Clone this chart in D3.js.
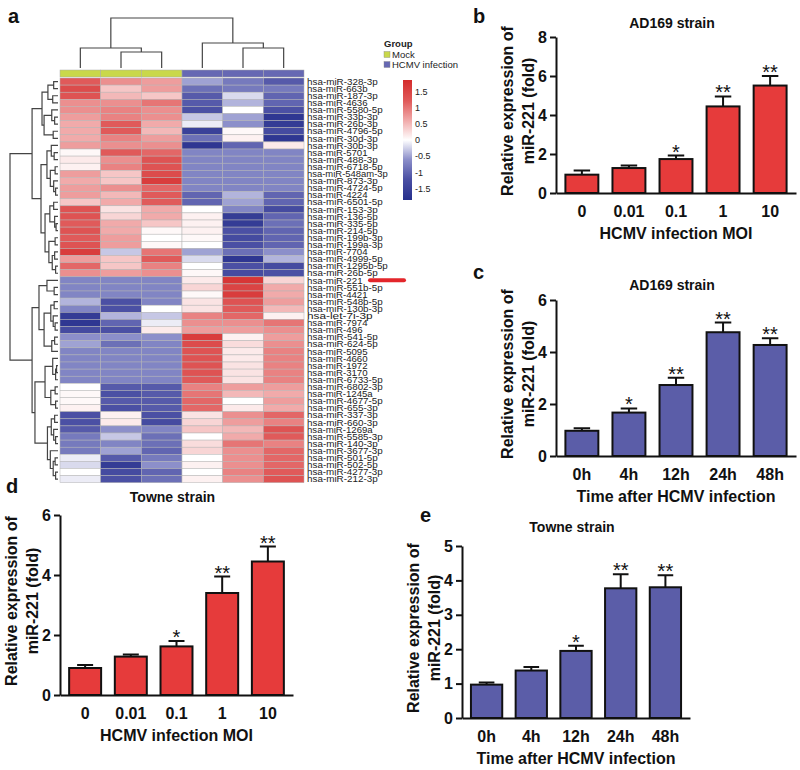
<!DOCTYPE html>
<html>
<head>
<meta charset="utf-8">
<script src="https://cdn.jsdelivr.net/npm/d3@7"></script>
<style>
  body { margin: 0; background: #fff; }
  svg { font-family: "Liberation Sans", Arial, sans-serif; }
</style>
</head>
<body>
<script>
// ---------- panel a: heatmap data ----------
var rowNames = ["hsa-miR-328-3p","hsa-miR-663b","hsa-miR-187-3p","hsa-miR-4636","hsa-miR-5580-5p",
  "hsa-miR-33b-3p","hsa-miR-26b-3p","hsa-miR-4796-5p","hsa-miR-30d-3p","hsa-miR-30b-3p","hsa-miR-5701",
  "hsa-miR-488-3p","hsa-miR-6718-5p","hsa-miR-548am-3p","hsa-miR-873-3p","hsa-miR-4724-5p","hsa-miR-4224",
  "hsa-miR-6501-5p","hsa-miR-153-3p","hsa-miR-136-5p","hsa-miR-335-5p","hsa-miR-214-5p","hsa-miR-199b-3p",
  "hsa-miR-199a-3p","hsa-miR-7704","hsa-miR-4999-5p","hsa-miR-1295b-5p","hsa-miR-26b-5p","hsa-miR-221",
  "hsa-miR-551b-5p","hsa-miR-4421","hsa-miR-548b-5p","hsa-miR-130b-3p","hsa-let-7i-3p","hsa-miR-7974",
  "hsa-miR-496","hsa-miR-541-5p","hsa-miR-624-5p","hsa-miR-5095","hsa-miR-4660","hsa-miR-1972",
  "hsa-miR-3170","hsa-miR-6733-5p","hsa-miR-6802-3p","hsa-miR-1245a","hsa-miR-4677-5p","hsa-miR-655-3p",
  "hsa-miR-337-3p","hsa-miR-660-3p","hsa-miR-1269a","hsa-miR-5585-3p","hsa-miR-140-3p","hsa-miR-3677-3p",
  "hsa-miR-501-5p","hsa-miR-502-5p","hsa-miR-4277-3p","hsa-miR-212-3p"];

var colGroups = ["Mock","Mock","Mock","HCMV infection","HCMV infection","HCMV infection"];
var groupNames = ["Mock","HCMV infection"];

// z-scores, one row per miRNA, columns = 3 mock + 3 infected
var expr = [
  [1.2,0.8,0.7,-0.5,-0.8,-1.1],[1.4,0.4,0.7,-0.9,-0.8,-0.8],[1.3,0.5,0.4,-1.1,-0.2,-1.0],
  [0.8,0.8,1.0,-1.1,-0.4,-1.0],[0.8,0.9,0.8,-1.2,0.0,-1.2],[0.7,0.9,0.8,-0.3,-0.5,-1.7],
  [0.6,1.2,0.6,-0.1,-0.6,-1.6],[0.6,1.2,0.5,-1.5,0.05,-1.3],[0.6,0.9,0.7,-0.9,0.1,-1.7],
  [0.7,0.8,0.8,-1.7,-1.0,0.15],[0.05,1.2,1.1,-0.7,-0.7,-0.7],[0.15,0.8,1.3,-0.7,-0.7,-0.7],
  [0.1,0.9,1.3,-0.7,-0.7,-0.7],[0.7,0.4,1.4,-0.7,-0.7,-0.7],[0.6,0.4,1.6,-0.7,-0.7,-0.7],
  [0.7,0.8,1.1,-0.7,-0.7,-0.7],[0.7,0.5,1.2,-1.0,-0.4,-1.0],[0.4,0.6,1.2,-1.0,-0.5,-1.0],
  [1.3,0.2,0.6,0.0,-0.7,-1.3],[1.3,0.3,0.6,0.1,-1.6,-1.0],[1.2,0.6,0.4,0.1,-1.6,-0.9],
  [1.3,0.6,0.05,0.1,-1.2,-1.0],[1.2,0.7,0.0,0.05,-1.3,-1.0],[1.3,0.7,0.05,0.0,-1.2,-1.0],
  [1.6,-0.3,1.0,-0.5,-0.9,-0.6],[0.7,0.4,1.2,-0.2,-1.7,-0.4],[1.1,0.4,0.9,0.0,-1.2,-1.3],
  [0.8,0.7,0.8,0.05,-1.3,-1.2],[-0.7,-0.7,-0.7,0.15,1.7,0.3],[-0.7,-0.7,-0.7,0.3,1.5,0.6],
  [-0.7,-0.7,-0.7,0.05,1.6,0.6],[-0.4,-1.2,-0.7,0.2,1.3,0.7],[-0.7,-1.2,0.0,0.2,1.2,0.5],
  [-1.6,-0.4,-0.3,0.9,1.1,0.1],[-1.7,-1.0,-0.1,0.8,0.8,1.0],[-1.3,-1.2,0.15,0.7,0.7,0.8],
  [-0.6,-0.6,-0.6,1.6,0.1,0.7],[-0.5,-0.9,-0.7,1.4,0.25,0.8],[-0.7,-0.7,-0.7,1.3,0.15,0.9],
  [-0.7,-0.7,-0.7,1.3,0.15,0.9],[-0.7,-0.7,-0.7,1.3,0.2,0.9],[-0.7,-0.7,-0.7,1.3,0.2,0.9],
  [-0.7,-0.7,-0.7,1.2,0.2,0.9],[0.0,-1.1,-1.1,0.9,0.7,0.7],[0.05,-1.2,-1.1,1.0,0.5,0.6],
  [0.05,-1.1,-1.1,1.1,0.0,0.7],[0.1,-1.2,-1.1,1.1,0.15,0.6],[-1.2,0.1,-1.2,0.2,0.8,1.1],
  [-1.2,0.15,-1.3,0.3,0.7,0.9],[-1.1,-0.6,-0.7,0.4,0.5,1.3],[-0.8,-0.3,-0.9,0.0,0.6,1.2],
  [-0.8,-0.7,-0.9,0.25,1.0,0.9],[-0.8,-0.5,-1.0,0.3,0.8,1.1],[-0.1,-1.1,-0.8,0.0,0.8,1.1],
  [-0.2,-1.6,-0.6,0.1,0.8,1.1],[0.0,-1.3,-1.0,0.0,0.9,1.2],[-0.1,-1.2,-0.9,0.1,0.8,1.3]
];

var legendTicks = [1.5, 1, 0.5, 0, -0.5, -1, -1.5];

// dendrograms: [height, left, right], leaves are column / row indices
var colTree = [5.0, [2.0, 0, [1.6, 1, 2]], [2.5, 3, [2.0, 4, 5]]];
var rowTree = [10,
  [5.4,
    [3.33, [2.1, [0.9, 0, 1], [1.1, 2, 3]], [2.9, [1.3, 4, [0.7, 5, 6]], [1.0, 7, 8]]],
    [3.54,
      [2.3, [1.4, 9, [0.8, 10, 11]], [1.6, [0.6, 12, 13], [0.9, 14, [0.5, 15, 16]]]],
      [2.7, [1.7, [0.9, 17, 18], [0.7, 19, [0.4, 20, 21]]], [1.9, [0.6, 22, 23], [1.2, [0.7, 24, 25], [0.5, 26, 27]]]]]],
  [5.4,
    [3.96, [2.3, 28, [0.8, 29, 30]],
      [2.9, [1.5, [0.8, 31, 32], [1.0, 33, [0.6, 34, 35]]], [1.3, [0.7, 36, 37], 38]]],
    [4.8,
      [2.7, [1.1, 39, [0.5, [0.3, 40, 41], 42]], [1.5, [0.6, 43, 44], [0.5, 45, 46]]],
      [2.2, [1.4, [0.7, 47, 48], [0.9, 49, [0.5, 50, 51]]], [1.6, 52, [1.0, [0.6, 53, 54], [0.5, 55, 56]]]]]]
];

// ---------- panels b-e: qPCR bars ----------
var moiCats = ["0", "0.01", "0.1", "1", "10"];
var timeCats = ["0h", "4h", "12h", "24h", "48h"];

var ad169Moi = [0.94, 1.28, 1.74, 4.44, 5.51];
var ad169MoiErr = [0.22, 0.13, 0.18, 0.51, 0.49];
var ad169MoiStars = ["", "", "*", "**", "**"];

var ad169Time = [0.97, 1.67, 2.73, 4.76, 4.27];
var ad169TimeErr = [0.10, 0.16, 0.28, 0.37, 0.26];
var ad169TimeStars = ["", "*", "**", "**", "**"];

var towneMoi = [0.90, 1.28, 1.62, 3.40, 4.45];
var towneMoiErr = [0.10, 0.07, 0.18, 0.55, 0.50];
var towneMoiStars = ["", "", "*", "**", "**"];

var towneTime = [0.97, 1.38, 1.95, 3.77, 3.80];
var towneTimeErr = [0.06, 0.10, 0.15, 0.41, 0.35];
var towneTimeStars = ["", "", "*", "**", "**"];

var ticks8 = [0, 2, 4, 6, 8], ticks6 = [0, 2, 4, 6], ticks5 = [0, 1, 2, 3, 4, 5];

// ---------- svg ----------
var svg = d3.select("body").append("svg")
    .attr("width", 800)
    .attr("height", 770);

var heatColor = d3.scaleLinear()
    .domain([-1.85, -1.2, -0.6, 0, 0.6, 1.2, 1.85])
    .range(["#262f8c", "#4b50a4", "#8c8fca", "#ffffff", "#f1aaaa", "#e05a5a", "#d42b2b"])
    .clamp(true);

var groupColor = d3.scaleOrdinal().domain(groupNames).range(["#c9d84a", "#6668b3"]);

var xCol = d3.scaleBand().domain(d3.range(colGroups.length)).range([60, 304]);
var yRow = d3.scaleBand().domain(d3.range(rowNames.length)).range([78, 78 + rowNames.length * 7.1]);

// panel letter
function panelLabel(t, x, y) {
    svg.append("text").attr("x", x).attr("y", y)
        .attr("font-size", 20).attr("font-weight", "bold").attr("fill", "#111").text(t);
}
panelLabel("a", 8, 23);

// draws an elbow dendrogram; pos(leaf) gives leaf position, hs maps height
function drawTree(tree, pos, hs, vertical) {
    var segs = [];
    function walk(n) {
        if (typeof n === "number") return { p: pos(n), h: 0 };
        var a = walk(n[1]), b = walk(n[2]);
        if (vertical) {
            segs.push("M" + a.p + "," + hs(a.h) + "V" + hs(n[0]) + "H" + b.p + "V" + hs(b.h));
        } else {
            segs.push("M" + hs(a.h) + "," + a.p + "H" + hs(n[0]) + "V" + b.p + "H" + hs(b.h));
        }
        return { p: (a.p + b.p) / 2, h: n[0] };
    }
    walk(tree);
    svg.append("path")
        .attr("d", segs.join(""))
        .attr("fill", "none")
        .attr("stroke", "#444")
        .attr("stroke-width", 1.2);
}

var colH = d3.scaleLinear().domain([0, colTree[0]]).range([68, 18]);
drawTree(colTree, function(i) { return xCol(i) + xCol.bandwidth() / 2; }, colH, true);

var rowH = d3.scaleLinear().domain([0, rowTree[0]]).range([58, 10]);
drawTree(rowTree, function(i) { return yRow(i) + yRow.bandwidth() / 2; }, rowH, false);

// annotation bar
svg.append("g").selectAll("rect")
    .data(colGroups)
    .enter().append("rect")
        .attr("x", function(d, i) { return xCol(i); })
        .attr("y", 70)
        .attr("width", xCol.bandwidth())
        .attr("height", 7)
        .attr("fill", function(d) { return groupColor(d); })
        .attr("stroke", "#aaa")
        .attr("stroke-width", 0.5);

// heatmap cells
var cells = [];
expr.forEach(function(r, i) { r.forEach(function(v, j) { cells.push({ r: i, c: j, v: v }); }); });
svg.append("g").selectAll("rect")
    .data(cells)
    .enter().append("rect")
        .attr("x", function(d) { return xCol(d.c); })
        .attr("y", function(d) { return yRow(d.r); })
        .attr("width", xCol.bandwidth())
        .attr("height", yRow.bandwidth())
        .attr("fill", function(d) { return heatColor(d.v); })
        .attr("stroke", "#b4b4b4")
        .attr("stroke-width", 0.5);

// row labels
svg.append("g").selectAll("text")
    .data(rowNames)
    .enter().append("text")
        .attr("x", 307)
        .attr("y", function(d, i) { return yRow(i) + yRow.bandwidth() / 2; })
        .attr("dy", "0.36em")
        .attr("font-size", 9)
        .attr("textLength", function(d) { return d.length * 5.05; })
        .attr("lengthAdjust", "spacingAndGlyphs")
        .attr("fill", "#222")
        .text(function(d) { return d; });

// red arrow at miR-221
var i221 = rowNames.indexOf("hsa-miR-221");
svg.append("line")
    .attr("x1", 370).attr("x2", 404)
    .attr("y1", yRow(i221) + yRow.bandwidth() / 2)
    .attr("y2", yRow(i221) + yRow.bandwidth() / 2)
    .attr("stroke", "#e3262b").attr("stroke-width", 4).attr("stroke-linecap", "round");

// group legend
svg.append("text").attr("x", 384).attr("y", 47)
    .attr("font-size", 9.5).attr("font-weight", "bold").attr("fill", "#222").text("Group");
groupNames.forEach(function(g, k) {
    svg.append("rect").attr("x", 384).attr("y", 51.5 + k * 10).attr("width", 6).attr("height", 6)
        .attr("fill", groupColor(g)).attr("stroke", "#888").attr("stroke-width", 0.4);
    svg.append("text").attr("x", 392).attr("y", 57.5 + k * 10)
        .attr("font-size", 9.5).attr("fill", "#222").text(g);
});

// colour key
var keyY = d3.scaleLinear().domain([-1.85, 1.85]).range([200, 80]);
var grad = svg.append("defs").append("linearGradient")
    .attr("id", "key").attr("x1", 0).attr("y1", 1).attr("x2", 0).attr("y2", 0);
heatColor.domain().forEach(function(v) {
    grad.append("stop")
        .attr("offset", (v + 1.85) / 3.7)
        .attr("stop-color", heatColor(v));
});
svg.append("rect").attr("x", 403).attr("y", 80).attr("width", 9).attr("height", 120)
    .attr("fill", "url(#key)");
svg.append("g").selectAll("text")
    .data(legendTicks)
    .enter().append("text")
        .attr("x", 415)
        .attr("y", function(d) { return keyY(d); })
        .attr("dy", "0.35em")
        .attr("font-size", 9)
        .attr("fill", "#222")
        .text(function(d) { return d3.format("~g")(d).replace("\u2212", "-"); });

// ---------- bar panels ----------
function barPanel(p) {
    var g = svg.append("g");
    var x = d3.scaleBand().domain(p.cats).range([p.left, p.right])
        .paddingInner(0.3).paddingOuter(0.2);
    var y = d3.scaleLinear().domain([0, p.ymax]).range([p.bottom, p.top]);
    var rows = p.cats.map(function(c, i) {
        return { c: c, v: p.vals[i], e: p.errs[i], s: p.stars[i] };
    });
    var bw = x.bandwidth();

    // error bars (upper only)
    g.selectAll(".err")
        .data(rows)
        .enter().append("path")
            .attr("class", "err")
            .attr("d", function(d) {
                var cx = x(d.c) + bw / 2, w = bw / 4, t = y(d.v + d.e);
                return "M" + cx + "," + y(d.v) + "V" + t + "M" + (cx - w) + "," + t + "H" + (cx + w);
            })
            .attr("fill", "none").attr("stroke", "#111").attr("stroke-width", 2);

    g.selectAll(".bar")
        .data(rows)
        .enter().append("rect")
            .attr("class", "bar")
            .attr("x", function(d) { return x(d.c); })
            .attr("y", function(d) { return y(d.v); })
            .attr("width", bw)
            .attr("height", function(d) { return y(0) - y(d.v); })
            .attr("fill", p.color)
            .attr("stroke", "#111")
            .attr("stroke-width", 2);

    g.selectAll(".star")
        .data(rows)
        .enter().append("text")
            .attr("class", "star")
            .attr("x", function(d) { return x(d.c) + bw / 2; })
            .attr("y", function(d) { return y(d.v + d.e) + 3; })
            .attr("text-anchor", "middle")
            .attr("font-size", 20)
            .attr("fill", "#111")
            .text(function(d) { return d.s; });

    // axes
    var ya = g.append("g")
        .attr("transform", "translate(" + p.left + ",0)")
        .call(d3.axisLeft(y).tickValues(p.yticks).tickFormat(d3.format("d"))
            .tickSize(6).tickSizeOuter(0).tickPadding(3));
    var xa = g.append("g")
        .attr("transform", "translate(0," + p.bottom + ")")
        .call(d3.axisBottom(x).tickSize(0).tickSizeOuter(0).tickPadding(13));
    [ya, xa].forEach(function(a) {
        a.select(".domain").attr("stroke", "#111").attr("stroke-width", 2);
        a.selectAll(".tick line").attr("stroke", "#111").attr("stroke-width", 2);
        a.selectAll("text")
            .attr("font-size", 16).attr("font-weight", "bold").attr("fill", "#111")
            .attr("font-family", "Liberation Sans, Arial, sans-serif");
    });

    var mid = (p.top + p.bottom) / 2 - 4;
    var cx = (p.left + p.right) / 2;
    ["Relative expression of", "miR-221 (fold)"].forEach(function(t, k) {
        g.append("text")
            .attr("transform", "translate(" + (p.left - 43 + k * 21) + "," + mid + ") rotate(-90)")
            .attr("text-anchor", "middle")
            .attr("font-size", 16).attr("font-weight", "bold").attr("fill", "#111")
            .text(t);
    });
    g.append("text").attr("x", cx).attr("y", p.bottom + 46)
        .attr("text-anchor", "middle")
        .attr("font-size", 16).attr("font-weight", "bold").attr("fill", "#111")
        .text(p.xTitle);
    g.append("text").attr("x", cx - 4).attr("y", p.titleY)
        .attr("text-anchor", "middle")
        .attr("font-size", 14).attr("font-weight", "bold").attr("fill", "#111")
        .text(p.title);
}

var red = "#e63b3b", blue = "#5b5da8";

panelLabel("b", 473, 23);
barPanel({ cats: moiCats, vals: ad169Moi, errs: ad169MoiErr, stars: ad169MoiStars,
    left: 556, right: 796, top: 37, bottom: 193, ymax: 8, yticks: ticks8,
    color: red, title: "AD169 strain", titleY: 28, xTitle: "HCMV infection MOI" });

panelLabel("c", 473, 279);
barPanel({ cats: timeCats, vals: ad169Time, errs: ad169TimeErr, stars: ad169TimeStars,
    left: 556, right: 796, top: 300, bottom: 456, ymax: 6, yticks: ticks6,
    color: blue, title: "AD169 strain", titleY: 290, xTitle: "Time after HCMV infection" });

panelLabel("d", 6, 493);
barPanel({ cats: moiCats, vals: towneMoi, errs: towneMoiErr, stars: towneMoiStars,
    left: 60, right: 293, top: 515, bottom: 695, ymax: 6, yticks: ticks6,
    color: red, title: "Towne strain", titleY: 502, xTitle: "HCMV infection MOI" });

panelLabel("e", 420, 522);
barPanel({ cats: timeCats, vals: towneTime, errs: towneTimeErr, stars: towneTimeStars,
    left: 462, right: 690, top: 546, bottom: 718, ymax: 5, yticks: ticks5,
    color: blue, title: "Towne strain", titleY: 532, xTitle: "Time after HCMV infection" });
</script>
</body>
</html>
